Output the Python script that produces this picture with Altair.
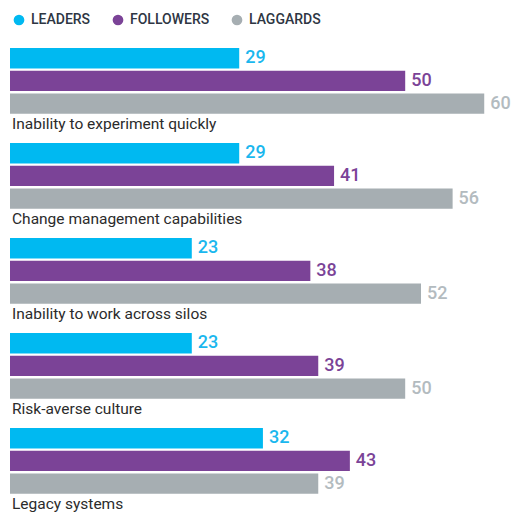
import altair as alt
import pandas as pd

categories = [
    "Inability to experiment quickly",
    "Change management capabilities",
    "Inability to work across silos",
    "Risk-averse culture",
    "Legacy systems",
]
series = ["LEADERS", "FOLLOWERS", "LAGGARDS"]
leaders = [29, 29, 23, 23, 32]
followers = [50, 41, 38, 39, 43]
laggards = [60, 56, 52, 50, 39]

bar_colors = ["#00B9F1", "#7B4397", "#A6AEB2"]
text_colors = ["#1AB7EE", "#7B4397", "#B3BBBF"]

rows = []
for i, c in enumerate(categories):
    for s, vals in zip(series, [leaders, followers, laggards]):
        rows.append({"category": c, "series": s, "value": vals[i]})
df = pd.DataFrame(rows)
lab = pd.DataFrame({"category": categories, "series": ["label"] * len(categories)})

y_enc = alt.Y("category:N", sort=categories, axis=None,
              scale=alt.Scale(paddingInner=0.0684, paddingOuter=0, range=[0, 468.5]))
yoff = alt.YOffset("series:N", sort=series + ["label"],
                   scale=alt.Scale(domain=series + ["label"], paddingInner=0.1, paddingOuter=0))
x_scale = alt.Scale(domain=[0, 62.5])

bars = alt.Chart(df).mark_bar(cornerRadius=0).encode(
    x=alt.X("value:Q", scale=x_scale, axis=None),
    y=y_enc,
    yOffset=yoff,
    color=alt.Color("series:N", sort=series,
                    scale=alt.Scale(domain=series, range=bar_colors),
                    legend=alt.Legend(title=None, orient="none", legendX=2, legendY=-35,
                                      direction="horizontal", symbolType="circle",
                                      symbolSize=115, symbolStrokeWidth=0,
                                      labelFont="Roboto", labelFontSize=14,
                                      labelFontWeight=500, labelColor="#2E3643",
                                      columnPadding=20, labelOffset=5)),
)

values = alt.Chart(df).mark_text(align="left", baseline="middle", dx=6,
                                 font="Roboto", fontSize=18, fontWeight=500).encode(
    x=alt.X("value:Q", scale=x_scale),
    y=y_enc,
    yOffset=yoff,
    text="value:Q",
    color=alt.Color("series:N", sort=series,
                    scale=alt.Scale(domain=series, range=text_colors), legend=None),
)

labels = alt.Chart(lab).mark_text(align="left", baseline="middle", dx=2, dy=-2,
                                  font="Roboto", fontSize=15.5, color="#2B2B2B").encode(
    x=alt.datum(0, scale=x_scale),
    y=y_enc,
    yOffset=yoff,
    text="category:N",
)

chart = alt.layer(bars, values, labels).resolve_scale(color="independent").properties(
    width=494, height=466,
    autosize=alt.AutoSizeParams(type="none"),
    padding={"left": 2, "top": 40, "right": 7, "bottom": 0},
).configure_view(stroke=None)

chart.save("out.html", embed_options={"renderer": "svg", "actions": False})
